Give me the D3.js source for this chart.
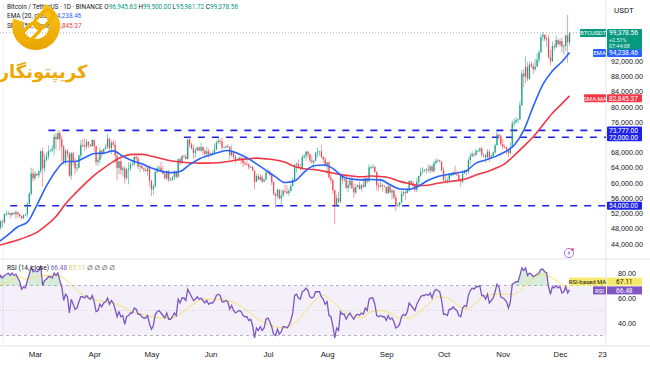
<!DOCTYPE html>
<html><head><meta charset="utf-8">
<script src="https://cdn.jsdelivr.net/npm/d3@7"></script>
<style>body{margin:0;background:#fff;overflow:hidden}svg{display:block;font-family:Roboto,"DejaVu Sans",sans-serif}</style>
</head><body><svg id="c" width="650" height="365"></svg>
<script>
// ---------- DATA (prices in thousands USDT, daily candles from startDate) ----------
const startDate = "2024-02-11";
const open = [47.8,48.3,49.9,49.7,51.8,52.0,52.1,51.6,52.1,51.8,52.3,51.8,51.3,50.7,51.6,51.7,54.5,57.1,62.5,
61.2,62.4,62.0,63.1,68.3,63.8,66.1,66.9,68.3,68.5,69.0,72.1,71.5,73.1,71.4,69.5,65.3,68.4,67.6,61.9,67.8,65.5,63.8,64.0,67.2,70.0,69.9,69.5,70.8,70.0,69.6,
71.3,69.7,65.5,66.0,68.5,67.8,68.9,69.4,71.6,69.1,70.6,70.0,67.1,63.9,65.7,63.4,63.8,61.3,63.5,63.8,64.9,64.9,66.8,66.4,64.3,64.5,63.8,63.4,63.1,63.8,
60.6,58.3,59.1,62.9,63.9,64.0,63.2,62.3,61.2,63.1,60.8,60.8,61.5,62.9,61.6,66.2,65.2,67.0,66.9,66.3,71.4,70.1,69.1,67.9,68.5,69.3,68.5,69.4,68.4,67.6,68.3,
67.5,67.8,67.8,68.8,70.6,71.1,70.8,69.3,69.3,69.6,69.5,67.3,68.2,66.8,66.0,66.2,66.6,66.5,65.2,64.9,64.8,64.1,64.2,63.2,60.3,61.8,60.8,61.6,60.3,60.9,
62.7,62.9,62.1,60.2,57.0,56.6,58.2,55.9,56.7,57.9,57.7,57.3,57.9,59.2,60.8,64.8,65.0,64.1,63.9,66.7,67.1,68.2,67.5,65.9,65.4,65.8,67.9,68.2,68.3,66.8,66.2,
64.6,65.4,61.4,60.7,58.1,54.0,56.0,55.1,61.7,60.8,60.9,58.7,59.4,60.6,58.7,57.5,58.9,59.4,58.4,59.5,59.0,61.2,60.4,64.1,64.2,64.2,62.8,59.4,59.0,59.4,59.1,
58.9,57.3,59.1,57.5,58.0,56.2,53.9,54.2,54.9,57.1,57.6,57.3,58.1,60.5,60.0,59.2,58.2,60.3,61.8,62.9,63.2,63.4,63.6,63.3,64.3,63.1,65.2,65.8,65.9,65.6,
63.3,60.8,60.6,60.8,62.1,62.1,62.8,62.2,62.1,60.6,60.3,62.5,63.2,62.9,66.0,67.0,67.6,67.4,68.4,68.4,69.0,67.4,67.4,66.7,68.2,66.6,67.0,68.0,69.9,72.7,72.3,
70.2,69.5,69.4,68.8,67.8,69.4,75.6,75.9,76.5,76.7,80.4,88.7,87.9,90.5,87.3,91.1,90.6,89.8,90.5,92.3,94.3,98.3,98.9,97.7,97.9,93.0,91.9,95.9,95.6,97.5,
96.4,97.2,95.8,96.0,98.7,96.94563];
const high = [48.6,50.3,50.4,52.0,52.8,52.6,52.2,52.4,52.5,52.9,52.4,52.0,51.5,51.7,51.9,54.9,57.6,64.0,63.7,
63.1,62.5,63.2,68.5,69.2,67.6,68.0,69.9,68.8,69.9,72.9,73.0,73.7,73.8,72.4,70.0,68.9,68.9,68.1,68.1,68.2,66.6,65.0,67.5,71.2,71.5,71.7,71.6,70.9,70.3,71.4,
71.3,69.7,66.9,69.3,68.7,69.0,70.3,72.8,71.8,71.2,71.3,71.2,67.9,65.8,66.9,64.4,64.5,64.0,65.4,65.4,65.7,67.2,67.2,67.1,65.3,64.8,63.9,64.4,64.2,64.7,
60.8,59.6,63.3,64.5,64.6,65.5,64.4,62.9,63.4,63.5,61.5,61.8,63.4,63.1,66.5,66.7,67.4,67.4,67.7,71.5,71.9,70.6,70.0,69.2,69.5,69.5,70.6,69.6,68.9,69.5,69.0,
67.9,68.4,70.3,71.1,71.8,71.6,71.9,69.5,69.9,70.2,69.6,70.0,68.4,67.3,66.4,66.9,67.2,66.6,65.7,66.5,65.1,64.5,64.5,63.4,62.4,62.5,62.3,62.2,61.1,63.0,
63.8,63.3,62.3,60.5,57.5,58.5,58.3,58.2,58.3,59.5,59.4,58.5,59.8,61.4,64.9,65.4,66.1,65.1,67.4,67.6,68.4,68.5,67.8,67.1,66.1,68.0,69.4,68.3,70.1,67.0,66.8,
65.6,65.6,62.2,61.1,58.3,57.0,57.7,62.7,61.7,61.5,61.8,60.7,61.6,61.8,59.8,59.8,59.6,60.3,59.6,61.4,61.8,61.4,64.9,64.5,65.0,64.5,63.2,60.2,61.2,59.9,59.4,
59.0,59.4,59.8,58.5,58.3,57.0,54.8,55.0,58.0,58.0,57.9,58.6,60.7,60.7,60.4,59.2,61.3,61.8,63.9,64.1,63.6,64.0,64.8,64.7,64.8,65.8,66.5,66.3,66.1,65.6,
64.1,62.4,61.5,62.5,62.4,63.0,64.5,63.2,62.5,61.3,63.4,63.5,63.3,66.5,67.9,68.4,67.9,68.9,68.7,69.4,69.5,67.8,67.5,68.8,68.8,67.4,68.3,70.3,73.6,72.9,72.7,
71.6,70.0,69.4,69.0,70.6,76.4,76.9,77.2,76.9,81.5,89.6,89.9,93.3,91.8,91.9,91.9,91.5,92.6,94.0,94.9,99.0,99.6,98.9,98.6,98.9,94.9,97.2,96.7,98.7,97.8,
97.9,98.2,96.3,99.0,104.1,99.5];
const low = [47.6,47.7,48.3,49.3,51.3,51.6,50.6,51.2,51.7,50.6,50.8,50.9,50.5,50.6,51.3,50.9,54.4,56.7,60.4,
60.8,61.8,61.3,62.5,59.0,62.8,65.6,66.1,68.0,68.1,67.2,68.6,71.3,68.6,65.6,64.8,64.6,66.6,61.5,60.8,64.5,62.3,63.0,63.8,66.4,69.3,68.4,68.9,69.1,69.5,69.6,
68.1,64.5,64.5,65.1,66.6,67.4,68.8,69.1,68.2,67.5,69.6,65.1,60.7,62.3,62.3,61.7,59.8,60.8,59.6,63.1,64.3,64.5,65.8,63.6,62.8,63.8,62.8,62.9,61.8,59.1,
56.5,56.9,58.8,62.6,62.9,62.9,62.3,60.9,60.7,60.2,60.5,60.6,60.7,61.1,61.3,64.6,65.1,66.6,65.9,66.1,69.2,68.8,66.3,66.6,68.5,68.3,68.2,67.3,67.1,67.1,66.6,
67.4,67.3,67.6,68.6,70.3,70.1,68.5,69.2,69.1,69.2,66.1,66.9,66.3,65.1,65.9,66.0,65.0,64.1,64.7,64.5,63.4,63.9,63.2,58.4,60.2,60.7,60.6,60.0,60.3,60.7,
62.5,61.8,59.4,56.8,53.5,56.0,55.7,54.3,56.3,57.2,57.0,56.6,57.8,59.2,60.6,62.7,63.9,63.2,63.3,66.4,65.8,66.6,65.4,65.1,63.4,65.7,66.7,67.1,66.5,65.3,64.5,
62.3,61.2,59.9,57.1,49.1,54.0,54.6,54.7,59.6,60.3,58.4,57.6,58.5,58.4,56.1,57.0,58.8,58.2,57.8,58.6,58.8,59.8,60.3,63.6,63.8,62.8,58.0,57.9,58.8,57.7,58.8,
57.2,57.1,57.4,55.6,55.7,52.6,53.8,53.6,54.6,56.4,55.5,57.3,57.6,59.5,58.7,57.5,57.6,59.2,61.6,62.4,62.8,62.4,62.7,62.6,62.7,62.7,64.8,65.4,65.4,62.9,
60.2,59.8,59.8,60.5,61.7,61.8,62.1,61.8,60.3,58.9,60.0,62.4,62.0,62.4,64.8,66.8,66.7,67.1,68.0,68.1,66.8,66.6,65.3,66.5,65.5,66.5,66.9,67.6,69.7,71.4,69.7,
68.8,69.0,67.5,66.8,67.5,69.3,74.8,75.6,75.8,76.5,80.2,85.1,86.2,86.7,87.1,90.1,88.7,89.4,90.4,91.5,94.1,97.2,97.2,95.7,92.6,90.8,91.8,94.6,95.4,96.0,
95.7,94.2,93.6,94.7,91.5,95.98172];
const close = [48.3,49.9,49.7,51.8,52.0,52.1,51.6,52.1,51.8,52.3,51.8,51.3,50.7,51.6,51.7,54.5,57.1,62.5,61.2,
62.4,62.0,63.1,68.3,63.8,66.1,66.9,68.3,68.5,69.0,72.1,71.5,73.1,71.4,69.5,65.3,68.4,67.6,61.9,67.8,65.5,63.8,64.0,67.2,70.0,69.9,69.5,70.8,70.0,69.6,71.3,
69.7,65.5,66.0,68.5,67.8,68.9,69.4,71.6,69.1,70.6,70.0,67.1,63.9,65.7,63.4,63.8,61.3,63.5,63.8,64.9,64.9,66.8,66.4,64.3,64.5,63.8,63.4,63.1,63.8,60.6,
58.3,59.1,62.9,63.9,64.0,63.2,62.3,61.2,63.1,60.8,60.8,61.5,62.9,61.6,66.2,65.2,67.0,66.9,66.3,71.4,70.1,69.1,67.9,68.5,69.3,68.5,69.4,68.4,67.6,68.3,67.5,
67.8,67.8,68.8,70.6,71.1,70.8,69.3,69.3,69.6,69.5,67.3,68.2,66.8,66.0,66.2,66.6,66.5,65.2,64.9,64.8,64.1,64.2,63.2,60.3,61.8,60.8,61.6,60.3,60.9,62.7,
62.9,62.1,60.2,57.0,56.6,58.2,55.9,56.7,57.9,57.7,57.3,57.9,59.2,60.8,64.8,65.0,64.1,63.9,66.7,67.1,68.2,67.5,65.9,65.4,65.8,67.9,68.2,68.3,66.8,66.2,64.6,
65.4,61.4,60.7,58.1,54.0,56.0,55.1,61.7,60.8,60.9,58.7,59.4,60.6,58.7,57.5,58.9,59.4,58.4,59.5,59.0,61.2,60.4,64.1,64.2,64.2,62.8,59.4,59.0,59.4,59.1,58.9,
57.3,59.1,57.5,58.0,56.2,53.9,54.2,54.9,57.1,57.6,57.3,58.1,60.5,60.0,59.2,58.2,60.3,61.8,62.9,63.2,63.4,63.6,63.3,64.3,63.1,65.2,65.8,65.9,65.6,63.3,
60.8,60.6,60.8,62.1,62.1,62.8,62.2,62.1,60.6,60.3,62.5,63.2,62.9,66.0,67.0,67.6,67.4,68.4,68.4,69.0,67.4,67.4,66.7,68.2,66.6,67.0,68.0,69.9,72.7,72.3,70.2,
69.5,69.4,68.8,67.8,69.4,75.6,75.9,76.5,76.7,80.4,88.7,87.9,90.5,87.3,91.1,90.6,89.8,90.5,92.3,94.3,98.3,98.9,97.7,97.9,93.0,91.9,95.9,95.6,97.5,96.4,
97.2,95.8,96.0,98.7,96.94563,99.37856];
// RSI (14) per day, same dates as candles
const rsi = [74,78,76,78,79,80,78,80,78,79,76,73,67,69,68,74,79,85,81,
82,81,82,86,70,74,75,77,77,76,80,78,80,74,69,58,63,61,48,59,55,51,52,57,61,61,60,62,60,59,62,
57,49,50,55,53,56,57,60,55,58,56,51,45,49,45,46,39,45,46,48,48,52,51,47,47,45,44,44,46,39,
35,38,47,49,50,48,46,44,48,43,43,45,48,46,59,56,60,60,58,67,64,61,58,59,61,59,60,58,56,58,55,
56,56,58,62,63,62,57,57,58,57,51,54,50,48,49,50,49,46,45,45,42,43,38,28,36,34,37,34,36,43,
44,41,37,31,30,35,31,33,37,37,36,38,42,48,62,63,60,59,65,66,68,66,61,60,61,65,65,65,61,59,55,
57,46,45,38,28,36,34,49,47,47,43,46,48,45,43,46,47,46,48,47,52,50,59,60,60,55,46,45,46,45,45,
42,46,43,44,41,36,37,39,45,47,46,49,56,54,52,50,55,58,61,62,62,63,62,64,60,65,67,66,65,58,
47,47,46,51,51,53,51,50,46,45,52,54,53,62,66,68,67,69,69,70,62,62,59,63,56,58,60,65,71,69,61,
60,59,57,52,57,71,72,73,73,78,84,82,84,78,80,79,77,78,79,80,83,83,81,80,69,63,69,68,70,68,
69,64,65,69,64,66.48];
// Moving averages read at 5-day steps
const maDates = ["2024-02-11","2024-02-16","2024-02-21","2024-02-26","2024-03-02","2024-03-07","2024-03-12","2024-03-17","2024-03-22","2024-03-27",
"2024-04-01","2024-04-06","2024-04-11","2024-04-16","2024-04-21","2024-04-26","2024-05-01","2024-05-06","2024-05-11","2024-05-16",
"2024-05-21","2024-05-26","2024-05-31","2024-06-05","2024-06-10","2024-06-15","2024-06-20","2024-06-25","2024-06-30","2024-07-05",
"2024-07-10","2024-07-15","2024-07-20","2024-07-25","2024-07-30","2024-08-04","2024-08-09","2024-08-14","2024-08-19","2024-08-24",
"2024-08-29","2024-09-03","2024-09-08","2024-09-13","2024-09-18","2024-09-23","2024-09-28","2024-10-03","2024-10-08","2024-10-13",
"2024-10-18","2024-10-23","2024-10-28","2024-11-02","2024-11-07","2024-11-12","2024-11-17","2024-11-22","2024-11-27","2024-12-02","2024-12-06"];
const ema20 = [44.5,46.4,48.5,49.7,54.2,59.2,63.2,65.6,65.6,66.6,67.7,67.8,68.4,67.0,65.8,65.0,63.9,63.1,62.7,63.0,
64.8,66.3,67.2,68.0,68.5,67.8,66.6,65.0,63.3,61.6,60.1,60.5,62.8,64.5,64.7,63.8,61.7,61.0,60.8,60.9,
60.8,59.5,58.4,58.3,59.2,60.7,61.7,62.2,62.6,63.2,65.2,66.0,66.9,68.1,69.9,73.8,80.1,85.8,89.4,91.8,94.23846];
const sma50 = [43.6,44.3,45.0,45.9,47.0,48.9,51.2,54.5,57.2,59.7,62.0,63.9,65.6,66.9,67.5,67.5,67.0,66.4,65.8,65.5,
65.3,65.2,65.2,65.3,65.6,66.0,66.3,66.5,66.3,66.0,65.4,64.3,63.7,63.5,63.1,62.6,62.1,61.8,61.6,61.8,
61.7,61.3,60.4,59.8,59.3,59.4,59.9,60.3,60.6,61.1,62.1,62.8,63.8,65.0,67.2,69.6,72.1,75.2,78.3,80.8,82.84537];
const rsiMa = [70,73,77,75,77,78,78,75,67,62,59,57,56,53,49,47,45,44,44,47,
53,58,59,59,58,55,50,44,40,37,36,40,48,57,62,57,50,46,44,49,
50,48,44,44,49,55,61,60,55,51,56,62,63,63,63,69,76,79,76,71,67.11];
// Horizontal levels drawn on the chart (value, anchor date)
const levelValues = [73.777, 72.0, 54.0];
const levelStart = ["2024-03-08", "2024-05-18", "2024-02-17"];
const levelLabels = ["73,777.00", "72,000.00", "54,000.00"];
const priceTicks = [44,48,52,56,60,64,68,76,80,84,88,92];
const rsiTicks = [40,60,80];
const rsiLevels = [70,50,30];
const timeTicks = ["2024-03-01","2024-04-01","2024-05-01","2024-06-01","2024-07-01","2024-08-01","2024-09-01","2024-10-01","2024-11-01","2024-12-01","2024-12-23"];
const timeLabels = ["Mar","Apr","May","Jun","Jul","Aug","Sep","Oct","Nov","Dec","23"];

// ---------- DRAW ----------
const svg = d3.select("#c");
const parse = d3.utcParse("%Y-%m-%d");
const t0 = parse(startDate);
const dates = close.map((_, i) => d3.utcDay.offset(t0, i));
const W = 650, H = 365, axisX = 606, mainBottom = 258, rsiTop = 260, rsiBottom = 345;

const x = d3.scaleUtc().domain([parse("2024-03-01"), parse("2024-12-01")]).range([35, 560]);
const y = d3.scaleLinear().domain([40.29, 108.01]).range([mainBottom, 0]);
const yR = d3.scaleLinear().domain([22.4, 90.4]).range([rsiBottom, rsiTop]);
const fmtP = v => d3.format(",.2f")(v * 1000);

const defs = svg.append("defs");
defs.append("clipPath").attr("id", "cm").append("rect").attr("x", 0).attr("y", 0).attr("width", axisX).attr("height", mainBottom);
defs.append("clipPath").attr("id", "cr").append("rect").attr("x", 0).attr("y", rsiTop).attr("width", axisX).attr("height", rsiBottom - rsiTop);

svg.append("rect").attr("width", W).attr("height", H).attr("fill", "#fff");

// frame lines
svg.append("line").attr("x1", axisX).attr("x2", axisX).attr("y1", 0).attr("y2", rsiBottom + 1).attr("stroke", "#e0e3eb");
svg.append("line").attr("x1", 0).attr("x2", W).attr("y1", mainBottom + 1).attr("y2", mainBottom + 1).attr("stroke", "#e0e3eb");
svg.append("line").attr("x1", 0).attr("x2", W).attr("y1", rsiBottom + 1).attr("y2", rsiBottom + 1).attr("stroke", "#e0e3eb");
svg.append("line").attr("x1", 3).attr("x2", 3).attr("y1", 0).attr("y2", rsiBottom).attr("stroke", "#eef0f3");

const gm = svg.append("g").attr("clip-path", "url(#cm)");

// current price line
gm.append("line").attr("x1", 0).attr("x2", axisX).attr("y1", y(close[close.length - 1])).attr("y2", y(close[close.length - 1]))
  .attr("stroke", "#9598a1").attr("stroke-width", 0.8).attr("stroke-dasharray", "1,2");

// horizontal levels
levelValues.forEach((v, i) => {
  gm.append("line").attr("x1", x(parse(levelStart[i]))).attr("x2", axisX).attr("y1", y(v)).attr("y2", y(v))
    .attr("stroke", "#1e22e6").attr("stroke-width", 1.6).attr("stroke-dasharray", "7,7");
});

// candles
const idx = d3.range(close.length);
const col = i => close[i] >= open[i] ? "#089981" : "#f23645";
gm.selectAll("line.w").data(idx).join("line").attr("class", "w")
  .attr("x1", i => x(dates[i])).attr("x2", i => x(dates[i]))
  .attr("y1", i => y(high[i])).attr("y2", i => y(low[i]))
  .attr("stroke", col).attr("stroke-width", 0.6).attr("opacity", 0.85);
gm.selectAll("rect.b").data(idx).join("rect").attr("class", "b")
  .attr("x", i => x(dates[i]) - 0.65).attr("width", 1.3)
  .attr("y", i => y(Math.max(open[i], close[i])))
  .attr("height", i => Math.max(0.7, Math.abs(y(open[i]) - y(close[i]))))
  .attr("fill", col).attr("opacity", 0.85);

// MAs
const maX = d3.range(maDates.length);
const lineMA = arr => d3.line().x(i => x(parse(maDates[i]))).y(i => y(arr[i])).curve(d3.curveMonotoneX);
gm.append("path").attr("d", lineMA(sma50)(maX)).attr("fill", "none").attr("stroke", "#f23645").attr("stroke-width", 1.6);
gm.append("path").attr("d", lineMA(ema20)(maX)).attr("fill", "none").attr("stroke", "#2962ff").attr("stroke-width", 1.6);

// price axis
const ay = svg.append("g").attr("transform", `translate(${axisX + 4},0)`)
  .call(d3.axisRight(y).tickValues(priceTicks).tickSize(0).tickFormat(fmtP));
ay.select(".domain").remove();
ay.selectAll("text").attr("font-size", 7.2).attr("fill", "#131722").attr("x", 1);

svg.append("text").attr("x", 614).attr("y", 13).attr("font-size", 8).attr("fill", "#131722").text("USDT");

// tags on the price axis (yv = tag centre; nudged only to avoid covering neighbours)
function tag(yv, valText, bg, label, labelW, fg) {
  const g = svg.append("g");
  g.append("rect").attr("x", axisX + 1).attr("y", yv - 4).attr("width", 35).attr("height", 8).attr("fill", bg).attr("rx", 1);
  g.append("text").attr("x", axisX + 3).attr("y", yv + 2.4).attr("font-size", 6.6).attr("fill", fg || "#fff").text(valText);
  if (label) {
    g.append("rect").attr("x", axisX - labelW).attr("y", yv - 4).attr("width", labelW).attr("height", 8).attr("fill", bg).attr("rx", 1);
    g.append("text").attr("x", axisX - labelW / 2).attr("y", yv + 2.3).attr("text-anchor", "middle").attr("font-size", 6.0).attr("fill", fg || "#fff").text(label);
  }
}
levelValues.forEach((v, i) => tag(y(v), levelLabels[i], "#1e22e6"));
tag(y(sma50[sma50.length - 1]) + 2.5, fmtP(sma50[sma50.length - 1]), "#f23645", "SMA:MA", 22);
tag(y(ema20[ema20.length - 1]) + 0.6, fmtP(ema20[ema20.length - 1]), "#2962ff", "EMA", 13);
// BTCUSDT current price tag
{
  const yv = y(close[close.length - 1]);
  const g = svg.append("g");
  g.append("rect").attr("x", axisX + 1).attr("y", yv - 4).attr("width", 35).attr("height", 20.5).attr("fill", "#089981").attr("rx", 1);
  g.append("rect").attr("x", axisX - 26).attr("y", yv - 4).attr("width", 26).attr("height", 8).attr("fill", "#089981").attr("rx", 1);
  g.append("text").attr("x", axisX - 13).attr("y", yv + 2.3).attr("text-anchor", "middle").attr("font-size", 6.0).attr("fill", "#fff").text("BTCUSDT");
  g.append("text").attr("x", axisX + 3).attr("y", yv + 2.2).attr("font-size", 6.6).attr("fill", "#fff").text(fmtP(close[close.length - 1]));
  g.append("text").attr("x", axisX + 3).attr("y", yv + 9.0).attr("font-size", 5.4).attr("fill", "#e6f6f2").text("+2.51%");
  g.append("text").attr("x", axisX + 3).attr("y", yv + 14.9).attr("font-size", 5.4).attr("fill", "#e6f6f2").text("07:44:08");
}

// lightning icon
{
  const g = svg.append("g").attr("transform", "translate(569,253)");
  g.append("circle").attr("r", 4.6).attr("fill", "#fff").attr("stroke", "#9c6ade").attr("stroke-width", 0.9);
  g.append("path").attr("d", "M0.8,-3 L-1.6,0.6 L0,0.6 L-0.8,3 L1.6,-0.6 L0,-0.6 Z").attr("fill", "#9c6ade");
  g.append("circle").attr("cx", 3.4).attr("cy", -3.4).attr("r", 1.3).attr("fill", "#f23645");
}

// ---------- RSI pane ----------
const gr = svg.append("g").attr("clip-path", "url(#cr)");
gr.append("rect").attr("x", 0).attr("width", axisX).attr("y", yR(70)).attr("height", yR(30) - yR(70)).attr("fill", "rgba(126,87,194,0.09)");
rsiLevels.forEach(v => {
  gr.append("line").attr("x1", 0).attr("x2", axisX).attr("y1", yR(v)).attr("y2", yR(v))
    .attr("stroke", v === 50 ? "rgba(120,123,134,0.4)" : "#9598a1").attr("stroke-width", 0.7).attr("stroke-dasharray", v === 50 ? "1,2" : "3,3");
});
const areaOB = d3.area().x(i => x(dates[i])).y0(yR(70)).y1(i => yR(Math.max(70, rsi[i])));
gr.append("path").attr("d", areaOB(idx)).attr("fill", "rgba(76,175,80,0.22)");
const areaOS = d3.area().x(i => x(dates[i])).y0(yR(30)).y1(i => yR(Math.min(30, rsi[i])));
gr.append("path").attr("d", areaOS(idx)).attr("fill", "rgba(242,54,69,0.2)");
gr.append("path").attr("d", d3.line().x(i => x(parse(maDates[i]))).y(i => yR(rsiMa[i])).curve(d3.curveMonotoneX)(maX))
  .attr("fill", "none").attr("stroke", "#f7e26b").attr("stroke-width", 1);
gr.append("path").attr("d", d3.line().x(i => x(dates[i])).y(i => yR(rsi[i]))(idx))
  .attr("fill", "none").attr("stroke", "#7e57c2").attr("stroke-width", 1.3);

const ar = svg.append("g").attr("transform", `translate(${axisX + 4},0)`)
  .call(d3.axisRight(yR).tickValues(rsiTicks).tickSize(0).tickFormat(d3.format(".2f")));
ar.select(".domain").remove();
ar.selectAll("text").attr("font-size", 7.2).attr("fill", "#131722").attr("x", 8);

function rtag(yv, valText, bg, label, labelW, fg) {
  svg.append("rect").attr("x", axisX + 1).attr("y", yv - 4).attr("width", 35).attr("height", 8).attr("fill", bg);
  svg.append("text").attr("x", axisX + 10).attr("y", yv + 2.4).attr("font-size", 6.6).attr("fill", fg).text(valText);
  svg.append("rect").attr("x", axisX - labelW).attr("y", yv - 4).attr("width", labelW).attr("height", 8).attr("fill", bg);
  svg.append("text").attr("x", axisX - labelW / 2).attr("y", yv + 2.3).attr("text-anchor", "middle").attr("font-size", 6.0).attr("fill", fg).text(label);
}
rtag(yR(rsiMa[rsiMa.length - 1]) - 7.5, d3.format(".2f")(rsiMa[rsiMa.length - 1]), "#f7e96b", "RSI-based MA", 37, "#131722");
rtag(yR(rsi[rsi.length - 1]) + 0.5, d3.format(".2f")(rsi[rsi.length - 1]), "#7e57c2", "RSI", 13, "#fff");

// RSI legend
{
  const g = svg.append("text").attr("x", 7).attr("y", 270).attr("font-size", 6.6).attr("fill", "#131722");
  g.append("tspan").text("RSI (14, close) ");
  g.append("tspan").attr("fill", "#7e57c2").text(d3.format(".2f")(rsi[rsi.length - 1]) + "  ");
  g.append("tspan").attr("fill", "#e5c74a").text(d3.format(".2f")(rsiMa[rsiMa.length - 1]) + "  ");
  g.append("tspan").text("∅  ∅  ∅  ∅");
}

// time axis
const ax = svg.append("g").attr("transform", `translate(0,${rsiBottom + 2})`)
  .call(d3.axisBottom(x).tickValues(timeTicks.map(parse)).tickSize(0).tickFormat((d, i) => timeLabels[i]));
ax.select(".domain").remove();
ax.selectAll("text").attr("font-size", 7.8).attr("fill", "#131722").attr("dy", "0.9em");

// ---------- Legend (top-left) ----------
{
  const l1 = svg.append("text").attr("x", 7).attr("y", 8.5).attr("font-size", 6.4).attr("fill", "#131722");
  l1.append("tspan").text("Bitcoin / TetherUS · 1D · BINANCE  ");
  const ohlc = [["O", open], ["H", high], ["L", low], ["C", close]];
  ohlc.forEach(([k, arr]) => {
    l1.append("tspan").text(k);
    l1.append("tspan").attr("fill", "#089981").text(fmtP(arr[arr.length - 1]) + "  ");
  });
  const l2 = svg.append("text").attr("x", 7).attr("y", 18).attr("font-size", 6.4).attr("fill", "#131722");
  l2.append("tspan").text("EMA (20, close) ");
  l2.append("tspan").attr("fill", "#2962ff").text(fmtP(ema20[ema20.length - 1]));
  const l3 = svg.append("text").attr("x", 7).attr("y", 27.5).attr("font-size", 6.4).attr("fill", "#131722");
  l3.append("tspan").text("SMA (50, close) ");
  l3.append("tspan").attr("fill", "#f23645").text(fmtP(sma50[sma50.length - 1]));
}

// ---------- Logo ----------
{
  const g = svg.append("g");
  const grad = defs.append("linearGradient").attr("id", "gold").attr("x1", 0).attr("y1", 0).attr("x2", 0).attr("y2", 1);
  grad.append("stop").attr("offset", 0).attr("stop-color", "#fcc419");
  grad.append("stop").attr("offset", 1).attr("stop-color", "#e8a400");
  const arc = d3.arc().innerRadius(13).outerRadius(24).startAngle(Math.PI * 0.12).endAngle(Math.PI * 1.6);
  g.append("path").attr("d", arc()).attr("transform", "translate(36,26)").attr("fill", "url(#gold)");
  const link = g.append("g").attr("transform", "translate(38,25) rotate(-45)");
  link.append("rect").attr("x", -21).attr("y", -5.5).attr("width", 22).attr("height", 11).attr("rx", 5.5).attr("fill", "none").attr("stroke", "#f0b000").attr("stroke-width", 3.4);
  link.append("rect").attr("x", -3).attr("y", -5.5).attr("width", 22).attr("height", 11).attr("rx", 5.5).attr("fill", "none").attr("stroke", "#f0b000").attr("stroke-width", 3.4);
  g.append("text").attr("x", 43).attr("y", 78).attr("text-anchor", "middle").attr("font-family", "DejaVu Sans")
    .attr("font-weight", "bold").attr("font-size", 18).attr("fill", "#eba800").attr("direction", "rtl").text("کریپتونگار");
}
</script></body></html>
